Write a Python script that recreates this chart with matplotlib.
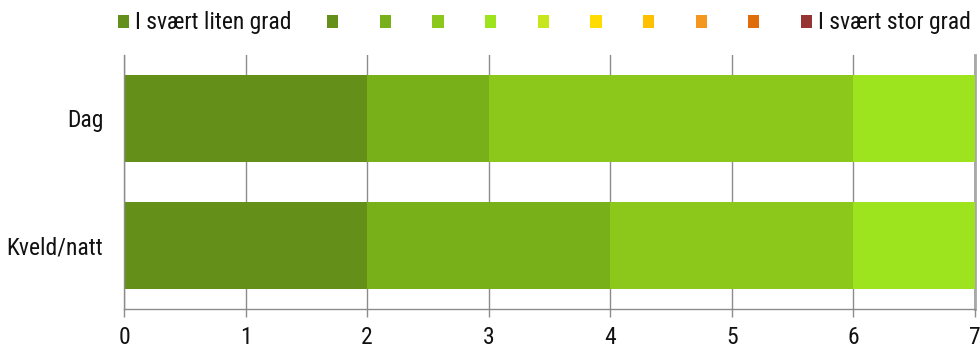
import matplotlib
matplotlib.use("Agg")
import matplotlib.pyplot as plt
from matplotlib import font_manager as fm
from matplotlib.patches import Patch

# Data: number of answers per scale step (0-10) for each time of day
categories = ["Dag", "Kveld/natt"]
scale_labels = ["I svært liten grad", "", "", "", "", "", "", "", "", "", "I svært stor grad"]
step_0 = [0, 0]
step_1 = [2, 2]
step_2 = [1, 2]
step_3 = [3, 2]
step_4 = [1, 1]
step_5 = [0, 0]
step_6 = [0, 0]
step_7 = [0, 0]
step_8 = [0, 0]
step_9 = [0, 0]
step_10 = [0, 0]
series = [step_0, step_1, step_2, step_3, step_4, step_5,
          step_6, step_7, step_8, step_9, step_10]
colors = ["#62901a", "#64901a", "#78b01a", "#8cc81c", "#9ee41e", "#c8e61e",
          "#ffdc00", "#ffc000", "#f5961e", "#e06c0c", "#963434"]
x_max = 7

available = {f.name for f in fm.fontManager.ttflist}
family = next((f for f in ["Nimbus Sans Narrow", "Roboto Condensed", "Archivo Narrow",
                           "Liberation Sans"] if f in available), "DejaVu Sans")
plt.rcParams["font.family"] = [family, "DejaVu Sans"]
fs = 17

fig = plt.figure(figsize=(9.8, 3.49), dpi=100)
ax = fig.add_axes([124 / 980, 1 - 309 / 349, (975 - 124) / 980, (309 - 55) / 349])

ypos = list(range(len(categories)))
left = [0.0] * len(categories)
for vals, col, lab in zip(series, colors, scale_labels):
    ax.barh(ypos, vals, left=left, height=0.685, color=col, edgecolor="none",
            label=lab, zorder=2)
    left = [l + v for l, v in zip(left, vals)]

ax.set_ylim(len(categories) - 0.5, -0.5)
ax.set_xlim(0, x_max)
ax.set_xticks(range(0, x_max + 1))
ax.set_yticks(ypos)
ax.set_yticklabels(categories)

grid_col = "#8c8c8c"
ax.grid(axis="x", color=grid_col, linewidth=1.0, zorder=0)
ax.grid(axis="y", visible=False)
for side in ["top", "right"]:
    ax.spines[side].set_visible(False)
for side in ["left", "bottom"]:
    ax.spines[side].set_color(grid_col)
    ax.spines[side].set_linewidth(1.0)
ax.axvline(x_max, color="#a8a8a8", linewidth=2.0, zorder=1, clip_on=False)

ax.tick_params(axis="x", length=6, width=1.0, color=grid_col, pad=6,
               labelsize=fs, labelcolor="#111111")
ax.tick_params(axis="y", length=0, pad=15, labelsize=fs, labelcolor="#111111")

handles = [Patch(facecolor=c, edgecolor="none") for c in colors]
fig.legend(handles, scale_labels, loc="center left", bbox_to_anchor=(118 / 980, 1 - 23 / 349),
           ncol=len(colors), frameon=False, fontsize=fs,
           handlelength=0.47, handleheight=0.47, handletextpad=0.26,
           columnspacing=1.50, borderaxespad=0, borderpad=0, labelcolor="#111111")

fig.savefig("out.png", dpi=100)
